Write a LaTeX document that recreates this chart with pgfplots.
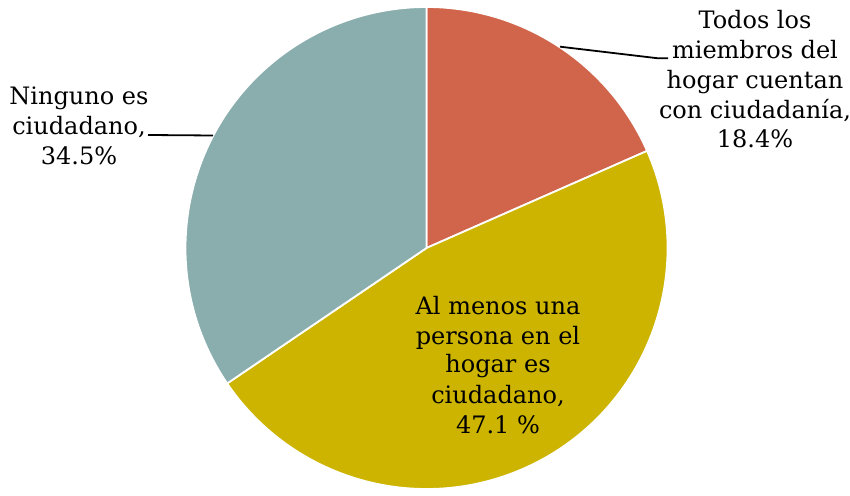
\documentclass[border=0pt]{standalone}
\usepackage{pgfplots}
\pgfplotsset{compat=1.18}
\usepackage{fontspec}
\setmainfont{DejaVu Serif}
\definecolor{cRed}{HTML}{D1654B}
\definecolor{cYel}{HTML}{CCB400}
\definecolor{cGry}{HTML}{8AADAD}
% values (percent)
\def\vA{18.4}% Todos los miembros
\def\vB{47.1}% Al menos una persona
\def\vC{34.5}% Ninguno
\begin{document}
\begin{tikzpicture}
\begin{axis}[hide axis, scale only axis, width=850pt, height=495pt,
  xmin=0, xmax=850, ymin=0, ymax=495, clip=false]
\path (axis cs:0,0) rectangle (axis cs:850,495);
\pgfmathsetmacro{\aA}{90}
\pgfmathsetmacro{\aB}{90-\vA*3.6}
\pgfmathsetmacro{\aC}{\aB-\vB*3.6}
\pgfmathsetmacro{\aD}{\aC-\vC*3.6}
\fill[cRed, draw=white, line width=1.8pt, line join=round] (axis cs:426.5,247) -- +(\aA:241pt) arc[start angle=\aA, end angle=\aB, radius=241pt] -- cycle;
\fill[cYel, draw=white, line width=1.8pt, line join=round] (axis cs:426.5,247) -- +(\aB:241pt) arc[start angle=\aB, end angle=\aC, radius=241pt] -- cycle;
\fill[cGry, draw=white, line width=1.8pt, line join=round] (axis cs:426.5,247) -- +(\aC:241pt) arc[start angle=\aC, end angle=\aD, radius=241pt] -- cycle;
\draw[black, line width=1.8pt] (axis cs:560,448.3) -- (axis cs:658,436.7) -- (axis cs:668,436.7);
\draw[black, line width=1.8pt] (axis cs:148,360) -- (axis cs:213,359.5);
\begin{scope}[every node/.style={anchor=base, inner sep=0pt, font=\fontsize{24}{29}\selectfont}]
\node at (axis cs:755,466) {Todos los};
\node at (axis cs:755,436) {miembros del};
\node at (axis cs:755,406) {hogar cuentan};
\node at (axis cs:755,376) {con ciudadanía,};
\node at (axis cs:755,347) {18.4\%};
\node at (axis cs:79,390) {Ninguno es};
\node at (axis cs:79,360) {ciudadano,};
\node at (axis cs:79,330) {34.5\%};
\node at (axis cs:498,180) {Al menos una};
\node at (axis cs:498,150) {persona en el};
\node at (axis cs:498,122) {hogar es};
\node at (axis cs:498,92) {ciudadano,};
\node at (axis cs:498,62) {47.1 \%};
\end{scope}
\end{axis}
\pgfresetboundingbox
\path (current axis.south west) rectangle (current axis.north east);
\end{tikzpicture}
\end{document}
